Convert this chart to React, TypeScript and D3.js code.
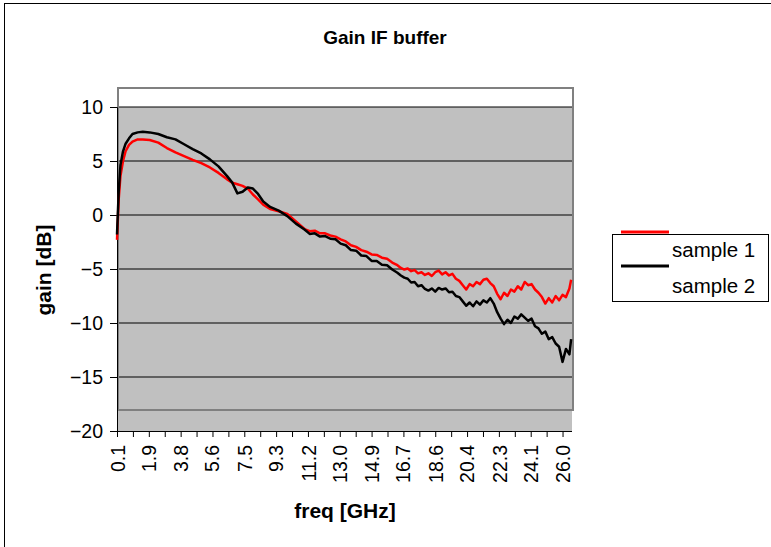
import React, { useEffect, useRef } from 'react';
import * as d3 from 'd3';

// frequency points (GHz) shared by both series
const freqs = [
  0.1, 0.2, 0.3, 0.45, 0.6, 0.8, 1.0, 1.3, 1.6, 2.0, 2.5, 3.0, 3.5, 4.0, 4.5, 5.0, 5.5, 6.0, 6.5, 6.8,
  7.1, 7.4, 7.7, 8.0, 8.3, 8.6, 9.0, 9.5, 10.0, 10.5,
  11.0, 11.3, 11.6, 11.9, 12.2, 12.5, 12.8, 13.1, 13.4, 13.7, 14.0, 14.3, 14.6, 14.9, 15.2, 15.5, 15.8, 16.1, 16.4,
  16.6, 16.8, 17.0, 17.2, 17.4, 17.6, 17.8, 18.0, 18.2, 18.4, 18.6, 18.8, 19.0, 19.2, 19.4, 19.6, 19.8,
  20.0, 20.2, 20.4, 20.6, 20.8, 21.0, 21.2, 21.4, 21.6, 21.8, 22.0, 22.2, 22.4, 22.6, 22.8, 23.0, 23.2,
  23.4, 23.6, 23.8, 24.0, 24.2, 24.4, 24.6, 24.8, 25.0, 25.2, 25.4, 25.6, 25.8, 26.0, 26.2, 26.4, 26.5,
];

// sample 1 (red)
const sample1 = [
  -2.3, 1.5, 3.6, 5.0, 5.9, 6.5, 6.8, 7.0, 7.0, 6.95, 6.7, 6.2, 5.8, 5.45, 5.1, 4.8, 4.4, 3.9, 3.3, 3.0,
  2.85, 2.7, 2.45, 1.9, 1.45, 0.95, 0.55, 0.35, 0.1, -0.6,
  -1.3, -1.5, -1.45, -1.7, -1.7, -1.9, -2.0, -2.25, -2.45, -2.8, -2.95, -3.25, -3.4, -3.65, -3.7, -3.95, -4.05, -4.4, -4.65,
  -4.9, -5.05, -4.95, -5.2, -5.1, -5.4, -5.3, -5.55, -5.4, -5.65, -5.3, -5.15, -5.5, -5.3, -5.6, -5.45, -5.9,
  -6.1, -6.5, -6.9, -6.4, -6.6, -6.2, -6.4, -6.0, -5.9, -6.3, -6.6, -7.3, -7.8, -7.2, -7.5, -6.9, -7.1,
  -6.6, -6.9, -6.2, -6.5, -6.4, -6.9, -7.2, -7.6, -8.2, -7.7, -8.1, -7.5, -7.9, -7.4, -7.6, -6.8, -6.0,
];

// sample 2 (black)
const sample2 = [
  -1.8, 2.2, 4.6, 5.9, 6.6, 7.1, 7.5, 7.65, 7.7, 7.65, 7.5, 7.2, 7.0, 6.55, 6.1, 5.7, 5.15, 4.5, 3.6, 3.0,
  2.0, 2.15, 2.55, 2.45, 1.95, 1.25, 0.75, 0.4, -0.1, -0.8,
  -1.35, -1.75, -1.7, -2.0, -1.95, -2.2, -2.25, -2.65, -2.8, -3.25, -3.3, -3.75, -3.8, -4.25, -4.25, -4.6, -4.65, -5.05, -5.35,
  -5.6, -5.8, -5.9, -6.25, -6.2, -6.6, -6.5, -6.85, -7.0, -6.8, -7.1, -6.75, -6.9, -6.8, -7.15, -7.1, -7.5,
  -7.6, -8.0, -8.4, -8.1, -8.45, -8.0, -8.3, -7.9, -8.1, -7.7, -8.2, -9.0, -9.6, -10.1, -9.7, -10.0, -9.4,
  -9.6, -9.2, -9.5, -9.8, -9.6, -10.3, -10.5, -11.0, -10.8, -11.5, -11.3, -11.9, -12.2, -13.6, -12.4, -12.9, -11.5,
];

const xTickLabels = ['0.1', '1.9', '3.8', '5.6', '7.5', '9.3', '11.2', '13.0', '14.9', '16.7', '18.6', '20.4', '22.3', '24.1', '26.0'];
const yTicks = [-20, -15, -10, -5, 0, 5, 10];
const seriesNames = ['sample 1', 'sample 2'];

const FONT = '"Liberation Sans", Arial, sans-serif';

const App = () => {
  const ref = useRef<SVGSVGElement>(null);

  useEffect(() => {
    const svg = d3.select(ref.current);
    svg.selectAll('*').remove();

    const left = 117, right = 572, top = 107, bottom = 431;

    const x = d3.scaleLinear().domain([0.1, 26.55]).range([left, right]);
    const y = d3.scaleLinear().domain([-20, 10]).range([bottom, top]);

    // outer chart frame
    svg.append('rect')
      .attr('x', 4.5).attr('y', 3.5).attr('width', 800).attr('height', 600)
      .attr('fill', '#fff').attr('stroke', '#000').attr('stroke-width', 1);

    // plot background
    svg.append('rect')
      .attr('x', left).attr('y', top).attr('width', right - left).attr('height', bottom - top)
      .attr('fill', '#c0c0c0');

    // gridlines
    svg.append('g').selectAll('line')
      .data(yTicks.filter(d => d > -20))
      .enter().append('line')
      .attr('x1', left).attr('x2', right)
      .attr('y1', d => y(d)).attr('y2', d => y(d))
      .attr('stroke', '#000').attr('stroke-width', 1);

    // plot area border (grey)
    svg.append('rect')
      .attr('x', 118).attr('y', 88).attr('width', 455).attr('height', 322)
      .attr('fill', 'none').attr('stroke', '#808080').attr('stroke-width', 2);

    // Y axis
    const yAxis = svg.append('g')
      .attr('transform', `translate(${left},0)`)
      .call(d3.axisLeft(y).tickValues(yTicks).tickSize(7).tickPadding(7).tickFormat(d3.format('d')));
    yAxis.select('.domain').attr('stroke', '#000');
    yAxis.selectAll('text')
      .attr('font-family', FONT).attr('font-size', 19.5).attr('fill', '#000');

    // X axis
    const tickStep = (26.0 - 0.1) / 28;
    const minorTicks = d3.range(29).map(i => 0.1 + i * tickStep);
    const xAxis = svg.append('g')
      .attr('transform', `translate(0,${bottom})`)
      .call(d3.axisBottom(x).tickValues(minorTicks).tickSize(6).tickFormat(() => ''));
    xAxis.select('.domain').attr('d', `M${left},0.5H${right}`).attr('stroke', '#000');

    svg.append('g').selectAll('text')
      .data(xTickLabels)
      .enter().append('text')
      .attr('transform', d => `translate(${x(parseFloat(d)) + 1},${bottom + 14}) rotate(-90)`)
      .attr('text-anchor', 'end')
      .attr('dy', '0.35em')
      .attr('font-family', FONT).attr('font-size', 19.5)
      .text(d => d);

    // Lines
    const line = d3.line<number>()
      .x((_, i) => x(freqs[i]))
      .y(d => y(d));

    svg.append('path')
      .datum(sample1)
      .attr('d', line)
      .attr('fill', 'none').attr('stroke', '#ff0000').attr('stroke-width', 2.5)
      .attr('stroke-linejoin', 'round');

    svg.append('path')
      .datum(sample2)
      .attr('d', line)
      .attr('fill', 'none').attr('stroke', '#000').attr('stroke-width', 2.5)
      .attr('stroke-linejoin', 'round');

    // titles
    svg.append('text')
      .attr('x', 385).attr('y', 44)
      .attr('text-anchor', 'middle')
      .attr('font-family', FONT).attr('font-size', 19).attr('font-weight', 'bold')
      .text('Gain IF buffer');

    svg.append('text')
      .attr('x', 345).attr('y', 518)
      .attr('text-anchor', 'middle')
      .attr('font-family', FONT).attr('font-size', 21).attr('font-weight', 'bold')
      .text('freq [GHz]');

    svg.append('text')
      .attr('transform', 'translate(51,270) rotate(-90)')
      .attr('text-anchor', 'middle')
      .attr('font-family', FONT).attr('font-size', 21).attr('font-weight', 'bold')
      .text('gain [dB]');

    // Legend
    const lg = svg.append('g');
    lg.append('rect')
      .attr('x', 612.5).attr('y', 234.5).attr('width', 156).attr('height', 67)
      .attr('fill', '#fff').attr('stroke', '#000').attr('stroke-width', 1);
    lg.append('line')
      .attr('x1', 621).attr('x2', 669).attr('y1', 232).attr('y2', 232)
      .attr('stroke', '#ff0000').attr('stroke-width', 3);
    lg.append('line')
      .attr('x1', 621).attr('x2', 669).attr('y1', 266).attr('y2', 266)
      .attr('stroke', '#000').attr('stroke-width', 3);
    lg.selectAll('text.lbl')
      .data(seriesNames)
      .enter().append('text')
      .attr('class', 'lbl')
      .attr('x', 672)
      .attr('y', (_, i) => 250 + i * 36)
      .attr('dy', '0.35em')
      .attr('font-family', FONT).attr('font-size', 20.5)
      .text(d => d);
  }, []);

  return (
    <svg ref={ref} width={771} height={547}
      style={{ position: 'absolute', left: 0, top: 0, background: '#fff' }} />
  );
};

export default App;
